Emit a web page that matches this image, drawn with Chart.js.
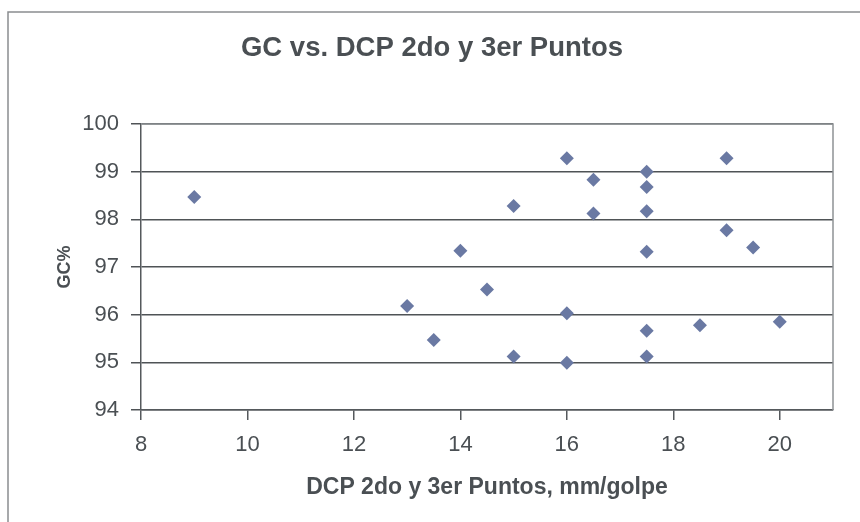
<!DOCTYPE html>
<html>
<head>
<meta charset="utf-8">
<script src="https://cdn.jsdelivr.net/npm/chart.js@4"></script>
<style>
  html, body { margin: 0; padding: 0; background: #ffffff; }
  #wrap { width: 860px; height: 522px; position: relative; }
</style>
</head>
<body>
<div id="wrap"><canvas id="c" width="860" height="522"></canvas></div>
<script>
const chartTitle = "GC vs. DCP 2do y 3er Puntos";
const xAxisTitle = "DCP 2do y 3er Puntos, mm/golpe";
const yAxisTitle = "GC%";
const dcpValues = [9, 13, 13.5, 14, 14.5, 15, 15, 16, 16, 16, 16.5, 16.5, 17.5, 17.5, 17.5, 17.5, 17.5, 17.5, 18.5, 19, 19, 19.5, 20];
const gcValues  = [98.47, 96.18, 95.47, 97.34, 96.53, 98.28, 95.12, 99.28, 96.03, 94.99, 98.83, 98.12, 99.0, 98.68, 98.17, 97.32, 95.66, 95.12, 95.78, 99.28, 97.77, 97.41, 95.85];
const xTicks = [8, 10, 12, 14, 16, 18, 20];
const yTicks = [94, 95, 96, 97, 98, 99, 100];

const points = dcpValues.map((x, i) => ({ x: x, y: gcValues[i] }));
const textColor = '#4a4f53';
const FONT = "'Liberation Sans', Arial, sans-serif";

const framePlugin = {
  id: 'frame',
  beforeDraw(chart) {
    const ctx = chart.ctx;
    ctx.save();
    ctx.fillStyle = '#ffffff';
    ctx.fillRect(0, 0, chart.width, chart.height);
    ctx.strokeStyle = '#8a8d90';
    ctx.lineWidth = 1.5;
    ctx.beginPath();
    ctx.moveTo(8, chart.height);
    ctx.lineTo(8, 12);
    ctx.lineTo(chart.width, 12);
    ctx.stroke();
    ctx.restore();
  },
  beforeDatasetsDraw(chart) {
    const a = chart.chartArea;
    const ctx = chart.ctx;
    ctx.save();
    ctx.strokeStyle = '#8f9295';
    ctx.lineWidth = 1.5;
    ctx.beginPath();
    ctx.moveTo(a.left, a.top);
    ctx.lineTo(a.right, a.top);
    ctx.lineTo(a.right, a.bottom);
    ctx.stroke();
    ctx.restore();
  }
};

new Chart(document.getElementById('c'), {
  type: 'scatter',
  data: {
    datasets: [{
      data: points,
      pointStyle: 'rectRot',
      pointRadius: 7,
      pointHoverRadius: 7,
      backgroundColor: '#6a79a3',
      borderColor: '#6a79a3',
      borderWidth: 0
    }]
  },
  options: {
    responsive: false,
    animation: false,
    events: [],
    layout: { padding: { left: 31, right: 27, top: 0, bottom: 0 } },
    plugins: {
      legend: { display: false },
      tooltip: { enabled: false },
      title: {
        display: true,
        text: chartTitle,
        color: textColor,
        font: { family: FONT, size: 27.5, weight: 'bold' },
        padding: { top: 32, bottom: 59 }
      }
    },
    scales: {
      x: {
        type: 'linear',
        min: 8,
        max: 21,
        afterBuildTicks(scale) { scale.ticks = xTicks.map(v => ({ value: v })); },
        afterFit(scale) { scale.height = 112; },
        ticks: {
          color: textColor,
          font: { family: FONT, size: 22 },
          padding: 12,
          maxRotation: 0,
          callback: v => String(v)
        },
        grid: {
          drawOnChartArea: false,
          drawTicks: true,
          tickLength: 10,
          color: '#55595c',
          lineWidth: 1.5
        },
        border: { display: true, color: '#55595c', width: 1.5 },
        title: {
          display: true,
          text: xAxisTitle,
          color: textColor,
          font: { family: FONT, size: 23, weight: 'bold' },
          padding: { top: 0, bottom: 21 }
        }
      },
      y: {
        type: 'linear',
        min: 94,
        max: 100,
        afterBuildTicks(scale) { scale.ticks = yTicks.map(v => ({ value: v })); },
        afterFit(scale) { scale.width = 110; },
        ticks: {
          color: textColor,
          font: { family: FONT, size: 22 },
          padding: 12,
          callback: v => String(v)
        },
        grid: {
          drawOnChartArea: true,
          drawTicks: true,
          tickLength: 10,
          color: '#4f5356',
          lineWidth: 1.5
        },
        border: { display: true, color: '#55595c', width: 1.5 },
        title: {
          display: true,
          text: yAxisTitle,
          color: textColor,
          font: { family: FONT, size: 18, weight: 'bold' },
          padding: { top: 23, bottom: 0 }
        }
      }
    }
  },
  plugins: [framePlugin]
});
</script>
</body>
</html>
